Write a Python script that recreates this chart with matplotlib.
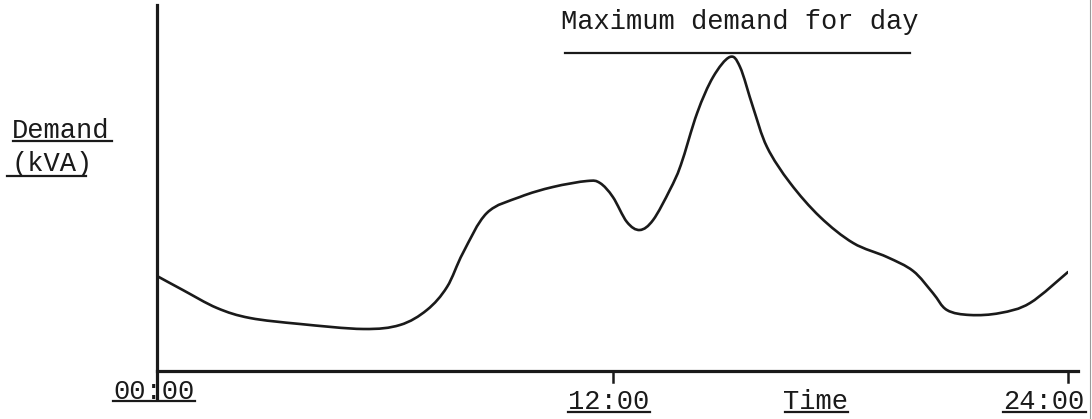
import matplotlib.pyplot as plt
from matplotlib.lines import Line2D
from matplotlib.path import Path
from matplotlib.patches import PathPatch

# demand curve (hours, demand in arbitrary units)
hours = [0.00, 0.68, 1.58, 2.45, 3.77, 5.43, 6.40, 7.11, 7.64, 8.06, 8.69,
         9.56, 10.43, 11.33, 11.67, 12.01, 12.38, 12.72, 13.07, 13.51, 13.80,
         14.23, 14.65, 15.09, 15.36, 15.70, 16.07, 16.68, 17.47, 18.34, 19.23,
         19.92, 20.44, 20.81, 21.42, 22.21, 23.00, 24.00]
demand = [95, 81, 63, 53, 47, 42, 46, 61, 84, 118, 158,
          174, 184, 190, 188, 174, 149, 141, 151, 181, 206,
          258, 294, 314, 304, 264, 224, 188, 154, 128, 114,
          100, 78, 61, 56, 58, 68, 99]

max_demand = 318
max_line_span = [10.75, 19.84]
tick_hours = [12, 24]

W, H = 1092, 419
FONT = 'Liberation Mono'
INK = '#1a1a1a'


def fx(x):
    return x / W


def fy(y):
    return 1 - y / H


def smooth_path(xs, ys):
    # catmull-rom through the read points, drawn as bezier segments
    verts = [(xs[0], ys[0])]
    codes = [Path.MOVETO]
    n = len(xs)
    for i in range(n - 1):
        x0, y0 = xs[max(i - 1, 0)], ys[max(i - 1, 0)]
        x1, y1 = xs[i], ys[i]
        x2, y2 = xs[i + 1], ys[i + 1]
        x3, y3 = xs[min(i + 2, n - 1)], ys[min(i + 2, n - 1)]
        c1 = (x1 + (x2 - x0) / 6, y1 + (y2 - y0) / 6)
        c2 = (x2 - (x3 - x1) / 6, y2 - (y3 - y1) / 6)
        verts += [c1, c2, (x2, y2)]
        codes += [Path.CURVE4] * 3
    return Path(verts, codes)


fig = plt.figure(figsize=(W / 100, H / 100), dpi=100)
fig.patch.set_facecolor('white')

# axes placed so 0h sits on the vertical axis and 24h under the right tick
ax = fig.add_axes([fx(157), fy(371), fx(1068 - 157), 366 / H])
ax.set_xlim(0, 24)
ax.set_ylim(0, 366)
ax.axis('off')

ax.add_patch(PathPatch(smooth_path(hours, demand), facecolor='none',
                       edgecolor=INK, lw=1.9, capstyle='round',
                       joinstyle='round'))

# max demand line
ax.plot(max_line_span, [max_demand, max_demand], color=INK, lw=1.6)

# hand drawn axes (y axis runs a bit below the x axis)
ax.plot([0, 0], [-27, 366], color=INK, lw=2.3, clip_on=False)
ax.plot([0, 24.26], [0, 0], color=INK, lw=2.3, clip_on=False)
for t in tick_hours:
    ax.plot([t, t], [0, -11], color=INK, lw=1.8, clip_on=False)

# faint edge of the scanned page
fig.add_artist(Line2D([fx(1090), fx(1090)], [0, 1], transform=fig.transFigure,
                      color='#9a9a9a', lw=0.8))


def label(text, x0, ycen, ul=None, size=19.5):
    fig.text(fx(x0), fy(ycen), text, fontsize=size, family=FONT, color=INK,
             ha='left', va='center')
    if ul is not None:
        (ux0, ux1, uy) = ul
        fig.add_artist(Line2D([fx(ux0), fx(ux1)], [fy(uy), fy(uy)],
                              transform=fig.transFigure, color=INK, lw=1.6))


label('Maximum demand for day', 561, 22)
label('Demand', 12, 131, ul=(13, 112, 141))
label('(kVA)', 12, 164, ul=(7, 86, 176))
label('00:00', 113, 392, ul=(113, 195, 401))
label('12:00', 568, 402, ul=(568, 650, 412))
label('Time', 783, 402, ul=(785, 848, 412))
label('24:00', 1003, 402, ul=(1003, 1086, 412))

fig.savefig('out.png', dpi=100, facecolor='white')
